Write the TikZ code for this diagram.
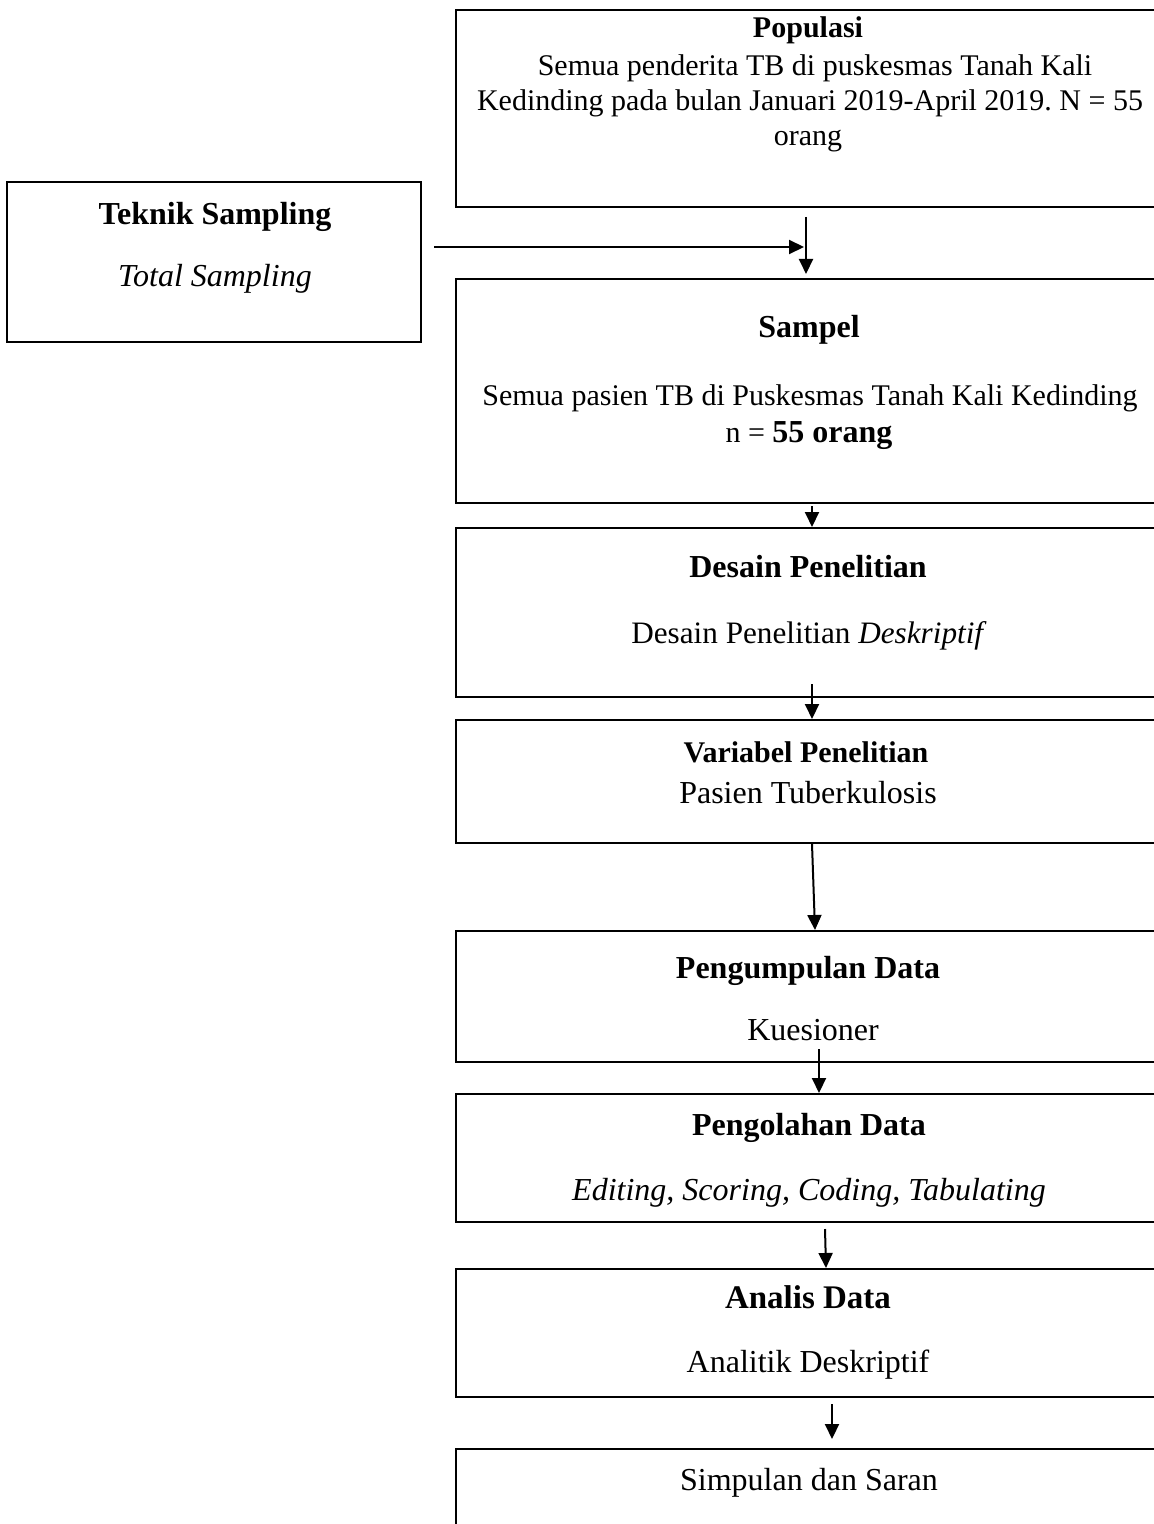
\documentclass[tikz,border=0pt]{standalone}
\usepackage{fontspec}
\setmainfont{Liberation Serif}
\usetikzlibrary{arrows.meta,fit}

\tikzset{
  box/.style={draw, line width=1pt, inner sep=0pt},
  txt/.style={anchor=base, inner sep=0pt, font=\fontsize{16}{18}\selectfont},
  small/.style={txt, font=\fontsize{15}{17.5}\selectfont},
  head/.style={txt, font=\fontsize{16}{18}\selectfont\bfseries},
  arr/.style={line width=1pt, -{Triangle[length=7.5pt,width=7pt]}},
}

\begin{document}
\frenchspacing
\begin{tikzpicture}[x=0.5pt,y=-0.5pt]
  \clip (0,0) rectangle (1154,1524);

  % boxes
  \node [box, fit={(456,10) (1170,207)}] (pop) {};
  \node [box, fit={(7,182) (421,342)}] (tek) {};
  \node [box, fit={(456,279) (1170,503)}] (samp) {};
  \node [box, fit={(456,528) (1170,697)}] (des) {};
  \node [box, fit={(456,720) (1170,843)}] (var) {};
  \node [box, fit={(456,931) (1170,1062)}] (kump) {};
  \node [box, fit={(456,1094) (1170,1222)}] (olah) {};
  \node [box, fit={(456,1269) (1170,1397)}] (anal) {};
  \node [box, fit={(456,1449) (1170,1560)}] (simp) {};

  % texts
  \node [small, font=\fontsize{15}{17.5}\selectfont\bfseries] (popHead) at (808,38) {Populasi};
  \node [small] (popL1) at (815,76) {Semua penderita TB di puskesmas Tanah Kali};
  \node [small] (popL2) at (810,111) {Kedinding pada bulan Januari 2019-April 2019. N = 55};
  \node [small] (popL3) at (808,146) {orang};

  \node [head] (tekHead) at (215,225) {Teknik Sampling};
  \node [txt] (tekText) at (215,287) {\itshape Total Sampling};

  \node [head] (sampHead) at (809,337) {Sampel};
  \node [small] (sampL1) at (810,405) {Semua pasien TB di Puskesmas Tanah Kali Kedinding};
  \node [small] (sampL2) at (809,442) {n = \textbf{\fontsize{16}{18}\selectfont 55 orang}};

  \node [head] (desHead) at (808,577) {Desain Penelitian};
  \node [txt, font=\fontsize{15.6}{18}\selectfont] (desText) at (809,643) {Desain Penelitian \textit{Deskriptif}};

  \node [small, font=\fontsize{15}{17.5}\selectfont\bfseries] (varHead) at (806,762) {Variabel Penelitian};
  \node [txt] (varText) at (808,803) {Pasien Tuberkulosis};

  \node [head] (kumpHead) at (808,978) {Pengumpulan Data};
  \node [txt] (kumpText) at (813,1040) {Kuesioner};

  \node [head] (olahHead) at (809,1135) {Pengolahan Data};
  \node [txt] (olahText) at (809,1200) {\itshape Editing, Scoring, Coding, Tabulating};

  \node [head, font=\fontsize{16.5}{18}\selectfont\bfseries] (analHead) at (808,1308) {Analis Data};
  \node [txt] (analText) at (808,1372) {Analitik Deskriptif};

  \node [txt] (simpText) at (809,1490) {Simpulan dan Saran};

  % arrows
  \coordinate (join) at (804,247);
  \draw [arr] ([shift={(12,-15)}]tek.east) -- (join);
  \draw [arr] ([shift={(-7,9)}]pop.south) -- ([shift={(-7,-4)}]samp.north);
  \draw [arr] ([shift={(-1,2)}]samp.south) -- ([shift={(-1,0)}]des.north);
  \draw [arr] ([shift={(-1,-14)}]des.south) -- ([shift={(-1,0)}]var.north);
  \draw [arr] ([shift={(-1,0)}]var.south) -- ([shift={(2,0)}]kump.north);
  \draw [arr] ([shift={(6,-14)}]kump.south) -- ([shift={(6,0)}]olah.north);
  \draw [arr] ([shift={(12,6)}]olah.south) -- ([shift={(13,0)}]anal.north);
  \draw [arr] ([shift={(19,6)}]anal.south) -- ([shift={(19,-9)}]simp.north);
\end{tikzpicture}
\end{document}
